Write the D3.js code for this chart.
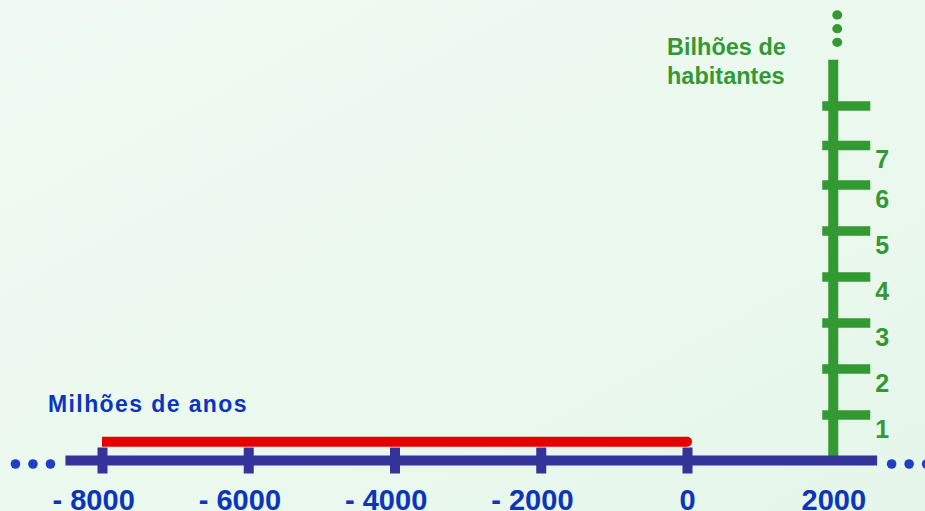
<!DOCTYPE html>
<html lang="pt">
<head>
<meta charset="UTF-8">
<script src="https://cdn.jsdelivr.net/npm/d3@7"></script>
<title>Bilhões de habitantes</title>
<style>
  body { margin: 0; padding: 0; background: #ebf8ee; }
  svg { display: block; }
  text { font-family: "Liberation Sans", Arial, sans-serif; font-weight: bold; }
</style>
</head>
<body>
<div id="chart"></div>
<script>
// anos (eixo horizontal)
const yearTicks = [-8000, -6000, -4000, -2000, 0, 2000];
const yearLabels = ["- 8000", "- 6000", "- 4000", "- 2000", "0", "2000"];
const yearExtent = [-8500, 2600];

// bilhões de habitantes (eixo vertical em 2000)
const popTicks = [1, 2, 3, 4, 5, 6, 6.86, 7.72];
const popLabels = ["1", "2", "3", "4", "5", "6", "7", ""];
const popTop = 8.71;

// população de -8000 a 0
const redYears = [-8000, 0];
const redPop = [0.41, 0.41];

const W = 925, H = 511;
const blue = "#333399", blueTxt = "#0b35bd", blueDot = "#1f3fc6";
const green = "#339933", red = "#e60000";

const svg = d3.select("#chart").append("svg")
  .attr("width", W).attr("height", H);

const bg = svg.append("defs").append("linearGradient").attr("id", "bg")
  .attr("x1", 0).attr("y1", 0).attr("x2", 1).attr("y2", 1);
bg.append("stop").attr("offset", "0%").attr("stop-color", "#f1fbf3");
bg.append("stop").attr("offset", "100%").attr("stop-color", "#e6f6ea");
svg.append("rect").attr("width", W).attr("height", H).attr("fill", "url(#bg)");

const x = d3.scaleLinear().domain([-8000, 0]).range([102, 687]);
const y = d3.scaleLinear().domain([0, 6]).range([460.5, 184.5]);

const x2000 = x(2000);

// linha vermelha
svg.append("path")
  .datum(redYears.map((d, i) => [d, redPop[i]]))
  .attr("d", d3.line().x(d => x(d[0])).y(d => y(d[1])))
  .attr("stroke", red).attr("stroke-width", 10).attr("fill", "none");
svg.append("circle")
  .attr("cx", x(redYears[1])).attr("cy", y(redPop[1])).attr("r", 5).attr("fill", red);

// eixo verde
svg.append("line")
  .attr("x1", x2000).attr("x2", x2000)
  .attr("y1", y(popTop)).attr("y2", y(0) + 1.5)
  .attr("stroke", green).attr("stroke-width", 10);

const yAxis = d3.axisRight(y).tickValues(popTicks)
  .tickSize(48).tickPadding(5)
  .tickFormat((d, i) => popLabels[i]);
const gy = svg.append("g")
  .attr("transform", "translate(" + (x2000 - 11) + ",0)")
  .call(yAxis);
gy.select(".domain").remove();
gy.selectAll(".tick line").attr("stroke", green).attr("stroke-width", 9.5);
gy.selectAll(".tick text")
  .attr("fill", green).attr("font-size", 25).attr("dy", 22.5)
  .attr("font-family", null);

// pontos verdes no topo
[0, 1, 2].forEach(i => {
  svg.append("ellipse")
    .attr("cx", x2000 + 4).attr("cy", y(popTop) - 17.5 - i * 13.7)
    .attr("rx", 5).attr("ry", 4.6).attr("fill", green);
});

// eixo azul
const axY = y(0);
svg.append("line")
  .attr("x1", x(yearExtent[0])).attr("x2", x(yearExtent[1]))
  .attr("y1", axY).attr("y2", axY)
  .attr("stroke", blue).attr("stroke-width", 10);

const xAxis = d3.axisBottom(x).tickValues(yearTicks)
  .tickSize(26).tickSizeOuter(0)
  .tickFormat((d, i) => yearLabels[i]);
const gx = svg.append("g")
  .attr("transform", "translate(0," + (axY - 13) + ")")
  .call(xAxis);
gx.select(".domain").remove();
gx.selectAll(".tick line").attr("stroke", blue).attr("stroke-width", 10)
  .filter(d => d === 2000).remove();
gx.selectAll(".tick text")
  .attr("fill", blueTxt).attr("font-size", 29)
  .attr("font-family", null)
  .attr("y", 62.5).attr("dy", 0)
  .attr("text-anchor", "start")
  .each(function() {
    // números centrados no traço, o sinal fica à esquerda
    const t = this.textContent;
    const full = this.getComputedTextLength();
    const k = t.search(/\d/);
    const num = this.getSubStringLength(k, t.length - k);
    d3.select(this).attr("x", -(full - num) - num / 2);
  });

// reticências nas pontas
[0, 1, 2].forEach(i => {
  svg.append("circle").attr("cx", x(yearExtent[0]) - 15 - i * 17.5)
    .attr("cy", axY + 3.5).attr("r", 4.8).attr("fill", blueDot);
  svg.append("circle").attr("cx", x(yearExtent[1]) + 14.5 + i * 17.5)
    .attr("cy", axY + 3.5).attr("r", 4.8).attr("fill", blueDot);
});

// títulos
svg.append("text").attr("x", 48).attr("y", 411.5)
  .attr("fill", blueTxt).attr("font-size", 23).attr("letter-spacing", 1.4)
  .text("Milhões de anos");

const tt = svg.append("text").attr("x", 667).attr("y", 55)
  .attr("fill", green).attr("font-size", 23.5);
tt.append("tspan").attr("x", 667).text("Bilhões de");
tt.append("tspan").attr("x", 667).attr("dy", 28.5).text("habitantes");
</script>
</body>
</html>
